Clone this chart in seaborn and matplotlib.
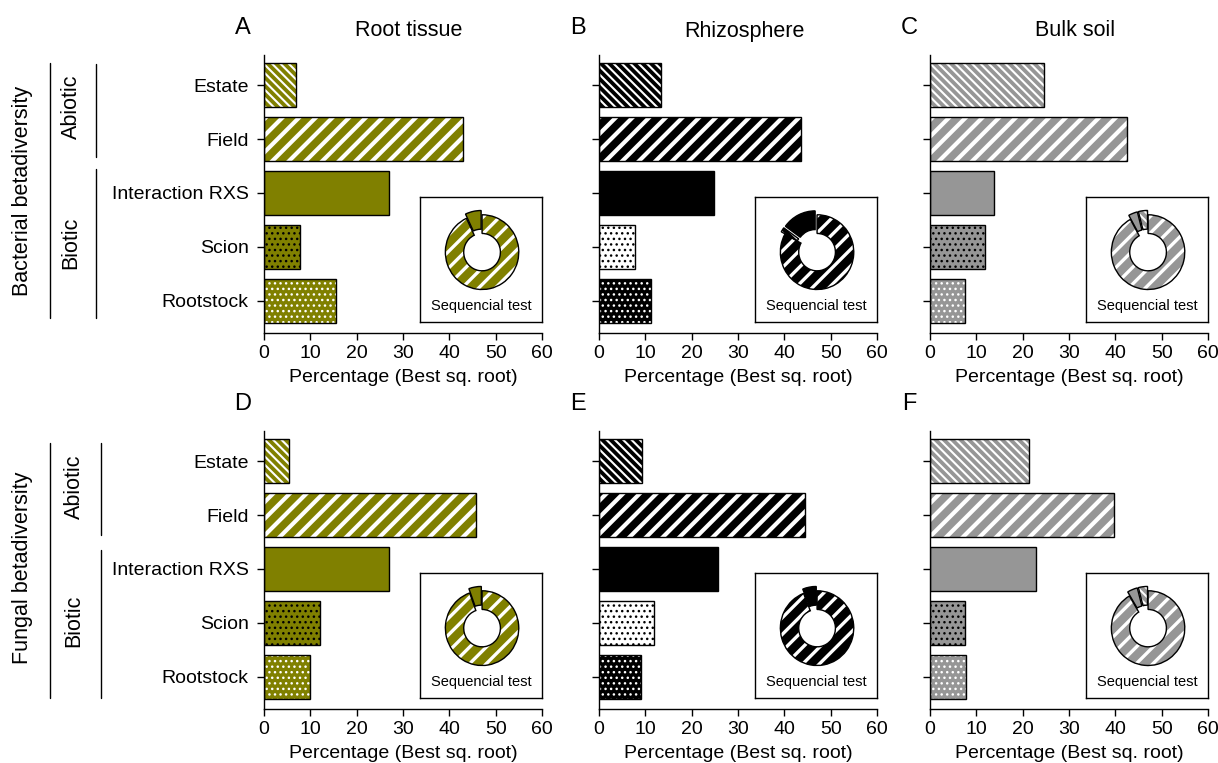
# Sequential test partitioning of beta diversity, bars + donut insets
import numpy as np
import pandas as pd
import matplotlib.pyplot as plt
from matplotlib.lines import Line2D
import seaborn as sns

sns.set_style("ticks")
plt.rcParams['font.family'] = ['Liberation Sans', 'DejaVu Sans']
plt.rcParams['hatch.linewidth'] = 2.0
for k in ['text.color', 'axes.labelcolor', 'xtick.color', 'ytick.color', 'axes.edgecolor']:
    plt.rcParams[k] = 'black'

# data
categories = ["Estate", "Field", "Interaction RXS", "Scion", "Rootstock"]
compartments = ["Root tissue", "Rhizosphere", "Bulk soil"]
letters = [["A", "B", "C"], ["D", "E", "F"]]
row_titles = ["Bacterial betadiversity", "Fungal betadiversity"]

bact_root = [6.9, 43.0, 27.0, 7.8, 15.5]
bact_rhizo = [13.4, 43.6, 24.8, 7.8, 11.2]
bact_bulk = [24.6, 42.6, 13.8, 11.9, 7.6]
fung_root = [5.4, 45.8, 27.0, 12.1, 9.9]
fung_rhizo = [9.3, 44.5, 25.7, 11.9, 9.1]
fung_bulk = [21.4, 39.8, 22.9, 7.6, 7.8]

# donut insets (sequential test), slices from 12 o'clock counter-clockwise
donut_A = [7.0, 93.0]
donut_B = [15.0, 2.0, 83.0]
donut_C = [4.0, 4.0, 92.0]
donut_D = [5.5, 94.5]
donut_E = [6.0, 94.0]
donut_F = [4.0, 4.5, 91.5]
kinds_A = ["solid", "main"]
kinds_B = ["solid", "fine", "main"]
kinds_C = ["fine", "solid", "main"]
kinds_D = ["solid", "main"]
kinds_E = ["solid", "main"]
kinds_F = ["fine", "solid", "main"]

comp_colors = ["#808000", "#000000", "#969696"]
scion_face = ["#808000", "#ffffff", "#969696"]
hatches = ["\\" * 4, "//", "", "...", "..."]
hatch_cols = ["white", "white", "none", "black", "white"]
hatch_lw = [1.5, 3.0, 1.0, 1.0, 1.0]

panels = [[bact_root, bact_rhizo, bact_bulk], [fung_root, fung_rhizo, fung_bulk]]
donuts = [[(donut_A, kinds_A), (donut_B, kinds_B), (donut_C, kinds_C)],
          [(donut_D, kinds_D), (donut_E, kinds_E), (donut_F, kinds_F)]]

W, H = 1218, 763
fig = plt.figure(figsize=(W / 100, H / 100), dpi=100)


def fx(x):
    return x / W


def fy(y):
    return 1 - y / H


col_left = [264, 599, 930]
row_bottom = [333, 709]
aw, ah = 278, 278

for r in range(2):
    for c in range(3):
        ax = fig.add_axes([fx(col_left[c]), fy(row_bottom[r]), aw / W, ah / H])
        df = pd.DataFrame({"factor": categories, "pct": panels[r][c]})
        sns.barplot(data=df, x="pct", y="factor", orient="h", color=comp_colors[c],
                    saturation=1, width=0.82, ax=ax)
        for i, p in enumerate(ax.patches):
            if categories[i] == "Scion":
                p.set_facecolor(scion_face[c])
            p.set_hatch(hatches[i])
            p.set_edgecolor(hatch_cols[i])
            p.set_linewidth(0)
            if hasattr(p, "set_hatch_linewidth"):
                p.set_hatch_linewidth(hatch_lw[i])
        # outlines
        sns.barplot(data=df, x="pct", y="factor", orient="h", color="black",
                    fill=False, linewidth=1, width=0.82, ax=ax)
        ax.set_xlim(0, 60)
        ax.set_ylim(4.6, -0.56)
        ax.set_xticks(range(0, 61, 10))
        ax.set_xlabel("Percentage (Best sq. root)", fontsize=14, labelpad=5)
        ax.set_ylabel("")
        ax.tick_params(axis="both", length=5, width=1, labelsize=14, colors="black")
        ax.tick_params(axis="y", pad=6)
        if c > 0:
            ax.set_yticklabels([])
        sns.despine(ax=ax)
        for s in ["left", "bottom"]:
            ax.spines[s].set_linewidth(1)

        # panel letter and column title
        top = row_bottom[r] - ah
        fig.text(fx(col_left[c] - 21), fy(top - 27), letters[r][c], fontsize=17,
                 ha="center", va="center")
        if r == 0:
            fig.text(fx(col_left[c] + 145), fy(31), compartments[c], fontsize=15.5,
                     ha="center", va="center")

        # donut inset
        ins = ax.inset_axes([0.56, 0.04, 0.44, 0.448])
        vals, kinds = donuts[r][c]
        explode = [0.0 if k == "main" else 0.07 for k in kinds]
        face = [comp_colors[c]] * len(vals)
        hcol = {"main": "white", "solid": "none", "fine": "white"}
        hpat = {"main": "//", "solid": "", "fine": "\\" * 4}
        wedges, _ = ins.pie(vals, startangle=90, counterclock=True, radius=0.6,
                            center=(0.02, 0.12), explode=explode, colors=face,
                            frame=True, wedgeprops=dict(width=0.3, linewidth=0))
        for w, k in zip(wedges, kinds):
            w.set_hatch(hpat[k])
            w.set_edgecolor(hcol[k])
            if hasattr(w, "set_hatch_linewidth"):
                w.set_hatch_linewidth(2.4 if k == "main" else 1.4)
        ins.pie(vals, startangle=90, counterclock=True, radius=0.6,
                center=(0.02, 0.12), explode=explode, colors=face, frame=True,
                wedgeprops=dict(width=0.3, fill=False, edgecolor="black", linewidth=1))
        ins.set_xlim(-1, 1)
        ins.set_ylim(-1, 1)
        ins.set_aspect("auto")
        ins.set_xticks([])
        ins.set_yticks([])
        for s in ins.spines.values():
            s.set_visible(True)
            s.set_linewidth(1)
            s.set_color("black")
        ins.text(0.0, -0.74, "Sequencial test", fontsize=10.5, ha="center", va="center")

# left grouping labels and lines
brackets = [
    dict(title=(23, 191), big=(63, 318), x_ab=96, ab=(64, 157), ab_t=(71, 107),
         bi=(169, 318), bi_t=(71, 243)),
    dict(title=(23, 568), big=(443, 698), x_ab=101, ab=(443, 535), ab_t=(74, 487),
         bi=(550, 698), bi_t=(74, 621)),
]
for r, b in enumerate(brackets):
    fig.text(fx(b["title"][0]), fy(b["title"][1]), row_titles[r], rotation=90,
             fontsize=15.5, ha="center", va="center")
    fig.text(fx(b["ab_t"][0]), fy(b["ab_t"][1]), "Abiotic", rotation=90,
             fontsize=15.5, ha="center", va="center")
    fig.text(fx(b["bi_t"][0]), fy(b["bi_t"][1]), "Biotic", rotation=90,
             fontsize=15.5, ha="center", va="center")
    fig.add_artist(Line2D([fx(50), fx(50)], [fy(b["big"][0]), fy(b["big"][1])],
                          transform=fig.transFigure, color="black", lw=1))
    fig.add_artist(Line2D([fx(b["x_ab"])] * 2, [fy(b["ab"][0]), fy(b["ab"][1])],
                          transform=fig.transFigure, color="black", lw=1))
    fig.add_artist(Line2D([fx(b["x_ab"])] * 2, [fy(b["bi"][0]), fy(b["bi"][1])],
                          transform=fig.transFigure, color="black", lw=1))

fig.savefig("out.png", dpi=100, facecolor="white")
